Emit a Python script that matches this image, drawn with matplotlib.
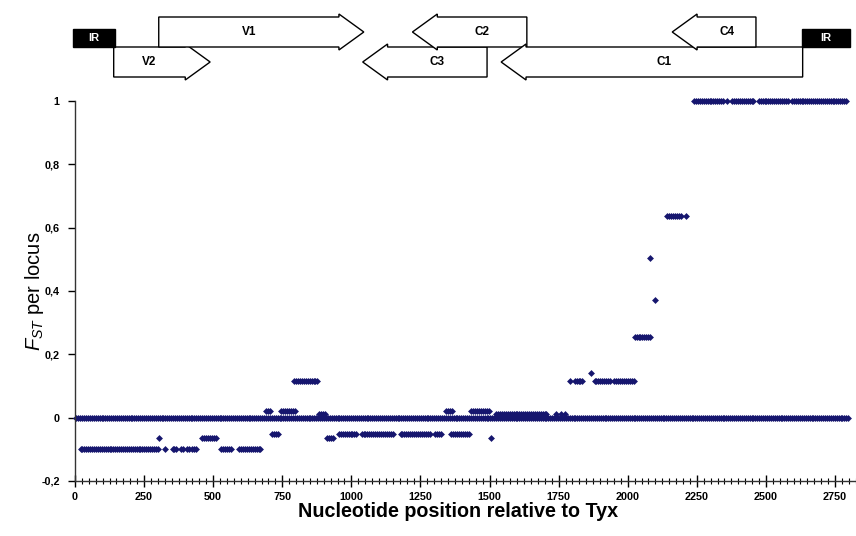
"""FST per locus along the genome, with the gene map drawn above it."""

import matplotlib

matplotlib.use("Agg")
import matplotlib.pyplot as plt
import numpy as np
from matplotlib.patches import Polygon, Rectangle
from matplotlib.ticker import FuncFormatter, MultipleLocator

plt.rcParams["font.family"] = ["Liberation Sans", "DejaVu Sans"]
plt.rcParams["mathtext.fontset"] = "custom"
plt.rcParams["mathtext.rm"] = "Liberation Sans"
plt.rcParams["mathtext.it"] = "Liberation Sans:italic"

# runs of loci: first position, last position, FST
seg_start = [5, 20, 325, 353, 385, 407, 425, 530, 594,
             303, 461, 911, 1506,
             713, 955, 1037, 1178, 1304, 1362,
             692, 746, 1344, 1434, 1492,
             793, 883, 1524, 1742, 1758, 1774,
             1790, 1808, 1880, 1952, 1866,
             2025, 2082, 2100, 2143, 2212,
             2240, 2360, 2378, 2474, 2594]
seg_end = [2800, 300, 325, 367, 396, 414, 440, 566, 677,
           303, 515, 937, 1506,
           738, 1020, 1153, 1286, 1326, 1430,
           712, 800, 1369, 1485, 1502,
           883, 908, 1711, 1742, 1758, 1774,
           1790, 1837, 1937, 2024, 1866,
           2085, 2082, 2100, 2197, 2212,
           2349, 2360, 2457, 2580, 2792]
seg_fst = [0.0, -0.10, -0.10, -0.10, -0.10, -0.10, -0.10, -0.10, -0.10,
           -0.065, -0.065, -0.063, -0.063,
           -0.053, -0.053, -0.053, -0.053, -0.053, -0.053,
           0.022, 0.022, 0.022, 0.022, 0.022,
           0.117, 0.013, 0.012, 0.012, 0.012, 0.012,
           0.117, 0.117, 0.117, 0.117, 0.14,
           0.255, 0.505, 0.371, 0.638, 0.638,
           1.0, 1.0, 1.0, 1.0, 1.0]
LOCUS_STEP = 7

# gene map (nucleotide coordinates)
gene_names = ["V2", "V1", "C3", "C2", "C1", "C4"]
gene_start = [140, 303, 1041, 1221, 1542, 2161]
gene_end = [489, 1045, 1491, 1635, 2633, 2464]
gene_strand = [1, 1, -1, -1, -1, -1]
gene_row = [1, 0, 1, 0, 1, 0]
ir_start = [-7, 2630]
ir_end = [144, 2803]

x_ticks = list(range(0, 2751, 250))
y_ticks = [-0.2, 0, 0.2, 0.4, 0.6, 0.8, 1.0]

NAVY = "#16166e"


def comma(v, _pos=None):
    s = f"{v:g}"
    return s.replace(".", ",")


xs, ys = [], []
for s, e, v in zip(seg_start, seg_end, seg_fst):
    pts = np.arange(s, e + 1, LOCUS_STEP) if e > s else np.array([s])
    xs.append(pts)
    ys.append(np.full(len(pts), v))
xs = np.concatenate(xs)
ys = np.concatenate(ys)

W, H = 856, 536
fig = plt.figure(figsize=(W / 100, H / 100), dpi=100)
ax = fig.add_axes([75 / W, (H - 481) / H, 1 - 75 / W, (481 - 101) / H])

ax.plot(xs, ys, ls="none", marker="D", ms=3.5, mew=0, color=NAVY, clip_on=False)

ax.set_xlim(0, 2826)
ax.set_ylim(-0.2, 1.0)
ax.set_xticks(x_ticks)
ax.set_yticks(y_ticks)
ax.xaxis.set_minor_locator(MultipleLocator(25))
ax.yaxis.set_major_formatter(FuncFormatter(comma))
ax.tick_params(axis="x", which="major", direction="inout", length=8, width=1, pad=4)
ax.tick_params(axis="x", which="minor", direction="inout", length=5, width=0.8)
ax.tick_params(axis="y", direction="out", length=5, width=1, pad=6)
for lab in ax.get_xticklabels() + ax.get_yticklabels():
    lab.set_fontweight("bold")
    lab.set_fontsize(7.8)
for side in ("top", "right"):
    ax.spines[side].set_visible(False)
for side in ("left", "bottom"):
    ax.spines[side].set_color("#333333")
    ax.spines[side].set_linewidth(1.0)

ax.set_xlabel("Nucleotide position relative to Tyx", fontsize=14.2, fontweight="bold")
ax.xaxis.set_label_coords(0.49, -0.056)
ax.set_ylabel(r"$F_{ST}$ per locus", fontsize=14.5)
ax.yaxis.set_label_coords(-0.037, 0.50)

# gene map
gm = fig.add_axes([75 / W, (H - 85) / H, 1 - 75 / W, 75 / H], sharex=ax)
gm.set_ylim(85, 10)
gm.axis("off")

rows = [(17, 47), (47, 77)]
head, flare = 90, 3
for name, s, e, strand, r in zip(gene_names, gene_start, gene_end, gene_strand, gene_row):
    t, b = rows[r]
    m = (t + b) / 2
    if strand > 0:
        hb = e - head
        pts = [(s, t), (hb, t), (hb, t - flare), (e, m), (hb, b + flare), (hb, b), (s, b)]
        cx = (s + hb) / 2
    else:
        hb = s + head
        pts = [(e, t), (hb, t), (hb, t - flare), (s, m), (hb, b + flare), (hb, b), (e, b)]
        cx = (hb + e) / 2
    gm.add_patch(Polygon(pts, closed=True, facecolor="white", edgecolor="black",
                         lw=1.0, clip_on=False))
    gm.text(cx, m, name, ha="center", va="center", fontsize=8.5, fontweight="bold")

for s, e in zip(ir_start, ir_end):
    gm.add_patch(Rectangle((s, 29), e - s, 18, facecolor="black", edgecolor="black",
                           lw=1.0, clip_on=False))
    gm.text((s + e) / 2, 38, "IR", ha="center", va="center", fontsize=8,
            fontweight="bold", color="white")

fig.savefig("out.png", dpi=100)
